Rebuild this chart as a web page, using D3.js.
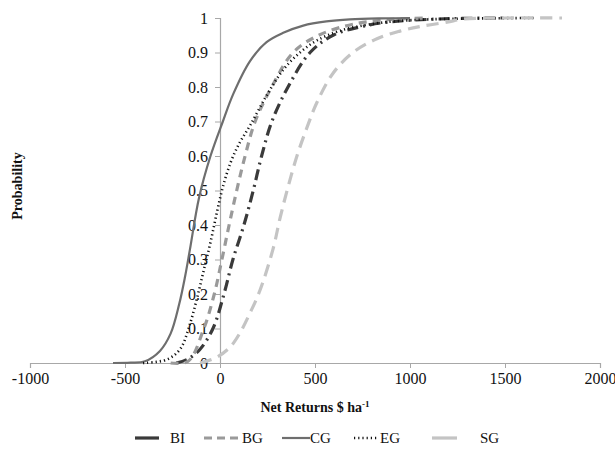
<!DOCTYPE html>
<html>
<head>
<meta charset="utf-8">
<script src="https://cdn.jsdelivr.net/npm/d3@7"></script>
<style>
  body { margin: 0; background: #fff; }
  text { font-family: "Liberation Serif", "Times New Roman", serif; }
</style>
</head>
<body>
<svg id="chart"></svg>
<script>
// Net returns ($/ha) and cumulative probability for each system
const biX = [-230, -174, -105, -37, 21, 68, 126, 175, 219, 273, 358, 474, 595, 737, 879, 1100, 1300, 1500];
const biP = [0, 0.01, 0.04, 0.1, 0.2, 0.3, 0.4, 0.5, 0.6, 0.7, 0.8, 0.9, 0.95, 0.974, 0.988, 0.996, 0.999, 1];

const bgX = [-260, -168, -85, -30, 10, 48, 88, 132, 185, 272, 385, 520, 700, 900, 1100];
const bgP = [0, 0.005, 0.1, 0.2, 0.3, 0.4, 0.5, 0.6, 0.7, 0.8, 0.9, 0.95, 0.982, 0.996, 1];

const cgX = [-563, -470, -395, -316, -260, -215, -184, -158, -110, -50, 15, 70, 158, 245, 333, 438, 560, 684, 850, 1000];
const cgP = [0, 0.001, 0.005, 0.035, 0.085, 0.17, 0.25, 0.33, 0.48, 0.6, 0.7, 0.78, 0.875, 0.93, 0.957, 0.978, 0.99, 0.996, 0.999, 1];

const egX = [-405, -280, -210, -160, -120, -85, -50, -15, 15, 55, 100, 160, 245, 333, 421, 510, 632, 772, 912, 1100, 1400, 1650];
const egP = [0, 0.01, 0.04, 0.11, 0.19, 0.27, 0.35, 0.44, 0.51, 0.58, 0.635, 0.69, 0.775, 0.85, 0.9, 0.935, 0.963, 0.98, 0.99, 0.996, 0.999, 1];

const sgX = [-105, -16, 53, 105, 158, 210, 279, 316, 358, 405, 456, 510, 595, 700, 826, 947, 1050, 1195, 1280, 1500, 1800];
const sgP = [0, 0.017, 0.046, 0.087, 0.145, 0.21, 0.33, 0.42, 0.51, 0.6, 0.68, 0.755, 0.84, 0.9, 0.94, 0.962, 0.975, 0.988, 0.997, 1, 1];

const seriesNames = ["BI", "BG", "CG", "EG", "SG"];
const xTicks = [-1000, -500, 0, 500, 1000, 1500, 2000];
const yTicks = [0, 0.1, 0.2, 0.3, 0.4, 0.5, 0.6, 0.7, 0.8, 0.9, 1];

const width = 615;
const height = 452;
const serif = "'Liberation Serif', 'Times New Roman', serif";

const series = [
  { name: "BI", xs: biX, ps: biP, color: "#3a3a3a", dash: "11,5,2,5", w: 3.2 },
  { name: "BG", xs: bgX, ps: bgP, color: "#9a9a9a", dash: "8,6", w: 3.2 },
  { name: "CG", xs: cgX, ps: cgP, color: "#6e6e6e", dash: null, w: 2.2 },
  { name: "EG", xs: egX, ps: egP, color: "#111111", dash: "1.2,3", w: 2.6 },
  { name: "SG", xs: sgX, ps: sgP, color: "#c4c4c4", dash: "12,7", w: 3.2 }
];

const xScale = d3.scaleLinear().domain([-1000, 2000]).range([30, 600]);
const yScale = d3.scaleLinear().domain([0, 1]).range([363, 18]);

const svg = d3.select("#chart")
  .attr("width", width)
  .attr("height", height);

// x axis along p = 0
const xAxis = d3.axisBottom(xScale)
  .tickValues(xTicks)
  .tickSize(5)
  .tickFormat(d => String(d));
svg.append("g")
  .attr("transform", "translate(0," + yScale(0) + ")")
  .call(xAxis)
  .attr("font-family", serif)
  .attr("font-size", 16)
  .call(g => g.select(".domain").attr("stroke", "#a8a8a8").attr("stroke-width", 1.2))
  .call(g => g.selectAll(".tick line").attr("stroke", "#a8a8a8"))
  .call(g => g.selectAll(".tick text").attr("y", 10).attr("fill", "#111"));

// y axis crosses at x = 0
const yAxis = d3.axisLeft(yScale)
  .tickValues(yTicks)
  .tickSize(5)
  .tickFormat(d => String(d));
svg.append("g")
  .attr("transform", "translate(" + xScale(0) + ",0)")
  .call(yAxis)
  .attr("font-family", serif)
  .attr("font-size", 16)
  .call(g => g.select(".domain").attr("stroke", "#a8a8a8").attr("stroke-width", 1.2))
  .call(g => g.selectAll(".tick line").attr("stroke", "#a8a8a8"))
  .call(g => g.selectAll(".tick text").attr("x", -12).attr("fill", "#111"));

const line = d3.line()
  .x(d => xScale(d[0]))
  .y(d => yScale(d[1]))
  .curve(d3.curveCatmullRom.alpha(0.5));

svg.append("g").selectAll("path")
  .data(series)
  .enter()
  .append("path")
  .attr("d", s => line(s.xs.map((x, i) => [x, s.ps[i]])))
  .attr("fill", "none")
  .attr("stroke", s => s.color)
  .attr("stroke-width", s => s.w)
  .attr("stroke-dasharray", s => s.dash || "none");

// axis titles
svg.append("text")
  .attr("x", 315)
  .attr("y", 412)
  .attr("text-anchor", "middle")
  .attr("font-size", 14)
  .attr("font-weight", "bold")
  .attr("fill", "#111")
  .html('Net Returns $ ha<tspan dy="-5" font-size="9">-1</tspan>');

svg.append("text")
  .attr("transform", "translate(22,186) rotate(-90)")
  .attr("text-anchor", "middle")
  .attr("font-size", 14)
  .attr("font-weight", "bold")
  .attr("fill", "#111")
  .text("Probability");

// legend
const legendPos = [
  { x1: 135, x2: 159, tx: 170, dash: "none" },
  { x1: 204, x2: 240, tx: 242, dash: "8,5" },
  { x1: 282, x2: 310, tx: 310, dash: "none" },
  { x1: 354, x2: 379, tx: 380, dash: "1.2,3" },
  { x1: 432, x2: 457, tx: 480, dash: "none" }
];
const legendY = 438;
const legend = svg.append("g").selectAll("g")
  .data(series)
  .enter()
  .append("g");
legend.append("line")
  .attr("x1", (d, i) => legendPos[i].x1)
  .attr("x2", (d, i) => legendPos[i].x2)
  .attr("y1", legendY)
  .attr("y2", legendY)
  .attr("stroke", d => d.color)
  .attr("stroke-width", d => d.w)
  .attr("stroke-dasharray", (d, i) => legendPos[i].dash);
legend.append("text")
  .attr("x", (d, i) => legendPos[i].tx)
  .attr("y", legendY + 5)
  .attr("font-size", 15)
  .attr("fill", "#111")
  .text((d, i) => seriesNames[i]);
</script>
</body>
</html>
